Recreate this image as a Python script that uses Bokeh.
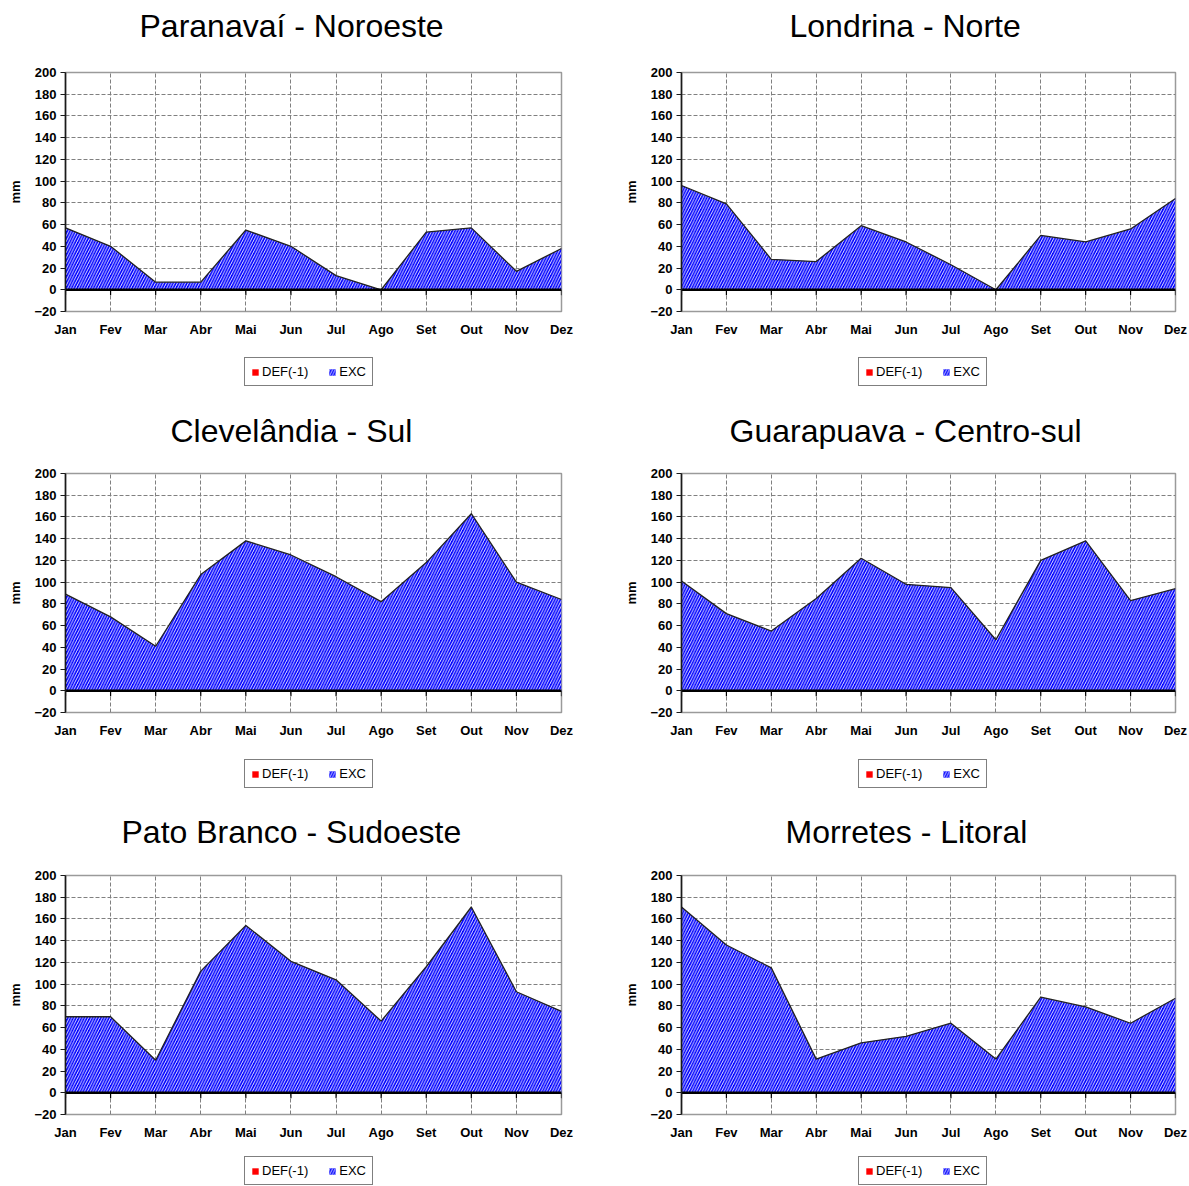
from bokeh.plotting import figure
from bokeh.models import Range1d, FixedTicker, Legend, LegendItem, Title
from bokeh.layouts import column, row
from bokeh.embed import file_html
from bokeh.resources import INLINE

# ---------------- data ----------------
months = ["Jan", "Fev", "Mar", "Abr", "Mai", "Jun", "Jul", "Ago", "Set", "Out", "Nov", "Dez"]
y_ticks = [-20, 0, 20, 40, 60, 80, 100, 120, 140, 160, 180, 200]

titles = ["Paranavaí - Noroeste", "Londrina - Norte",
          "Clevelândia - Sul", "Guarapuava - Centro-sul",
          "Pato Branco - Sudoeste", "Morretes - Litoral"]

exc_paranavai = [57, 40, 7, 7, 55, 40, 13, 0, 53, 57, 17, 38]
exc_londrina = [96, 79, 28, 26, 59, 44, 23, 0, 50, 44, 56, 84]
exc_clevelandia = [89, 68, 41, 107, 138, 125, 105, 82, 118, 163, 100, 84]
exc_guarapuava = [101, 71, 55, 85, 122, 98, 95, 47, 120, 138, 83, 94]
exc_pato_branco = [70, 70, 30, 112, 154, 121, 104, 66, 116, 171, 93, 75]
exc_morretes = [171, 136, 115, 31, 46, 52, 64, 31, 88, 79, 64, 87]

def_paranavai = [0, 0, 0, 0, 0, 0, 0, 0, 0, 0, 0, 0]
def_londrina = [0, 0, 0, 0, 0, 0, 0, 0, 0, 0, 0, 0]
def_clevelandia = [0, 0, 0, 0, 0, 0, 0, 0, 0, 0, 0, 0]
def_guarapuava = [0, 0, 0, 0, 0, 0, 0, 0, 0, 0, 0, 0]
def_pato_branco = [0, 0, 0, 0, 0, 0, 0, 0, 0, 0, 0, 0]
def_morretes = [0, 0, 0, 0, 0, 0, 0, 0, 0, 0, 0, 0]

exc_series = [exc_paranavai, exc_londrina, exc_clevelandia,
              exc_guarapuava, exc_pato_branco, exc_morretes]
def_series = [def_paranavai, def_londrina, def_clevelandia,
              def_guarapuava, def_pato_branco, def_morretes]

# ---------------- layout geometry (pixels) ----------------
FONT = "Liberation Sans"
FH = 239
BOTTOM = 30
# per column: (border_left, frame_width, border_right, legend_x)
cols = [(65, 496, 40, 244), (80, 494, 14, 257)]
# per row: (border_top, title_gap, legend_strip_height, legend_y)
rows = [(72, 16, 68, 23), (64, 12, 68, 22), (65, 13, 42, 1)]
# per panel: title offset from frame left
title_offsets = [74, 108, 105, 48, 56, 104]

EXC_STYLE = dict(fill_color="#0000ff", fill_alpha=1.0, hatch_pattern="/",
                 hatch_color="white", hatch_scale=5.5, hatch_weight=0.9)
DEF_STYLE = dict(fill_color="#ff0000", fill_alpha=1.0)


def make_panel(title, exc, dfc, col, rw, toff):
    bl, fw, br, _ = col
    bt, tgap, _, _ = rw
    xs = list(range(len(months)))
    p = figure(frame_width=fw, frame_height=FH,
               min_border_left=bl, min_border_right=br,
               min_border_top=bt, min_border_bottom=BOTTOM,
               x_range=Range1d(0, len(months) - 1), y_range=Range1d(y_ticks[0], y_ticks[-1]),
               output_backend="svg", toolbar_location=None, tools="")
    p.background_fill_color = "white"
    p.border_fill_color = "white"
    p.outline_line_color = "#9a9a9a"
    p.outline_line_width = 1.5

    # spacer between title and plot area
    p.add_layout(Title(text=" ", text_font=FONT, text_font_size="10px",
                       standoff=tgap), "above")
    p.title.text = title
    p.title.align = "left"
    p.title.offset = toff
    p.title.text_font = FONT
    p.title.text_font_size = "32px"
    p.title.text_font_style = "normal"
    p.title.text_color = "black"
    p.title.standoff = 0

    # grid
    p.xgrid.ticker = FixedTicker(ticks=xs)
    p.ygrid.ticker = FixedTicker(ticks=y_ticks)
    for gr in (p.xgrid, p.ygrid):
        gr.grid_line_color = "#808080"
        gr.grid_line_dash = "4 2"
        gr.grid_line_width = 1

    # x axis: labels only
    xa = p.xaxis[0]
    xa.ticker = FixedTicker(ticks=xs)
    xa.major_label_overrides = {i: m for i, m in enumerate(months)}
    xa.axis_line_color = None
    xa.major_tick_line_color = None
    xa.major_tick_out = 0
    xa.major_tick_in = 0
    xa.minor_tick_line_color = None
    xa.major_label_standoff = 10
    xa.major_label_text_font = FONT
    xa.major_label_text_font_style = "bold"
    xa.major_label_text_font_size = "13px"
    xa.major_label_text_color = "black"

    # y axis
    ya = p.yaxis[0]
    ya.ticker = FixedTicker(ticks=y_ticks)
    ya.axis_line_color = "#1a1a1a"
    ya.axis_line_width = 1.6
    ya.major_tick_line_color = "#1a1a1a"
    ya.major_tick_out = 5
    ya.major_tick_in = 0
    ya.minor_tick_line_color = None
    ya.major_label_standoff = 4
    ya.major_label_text_font = FONT
    ya.major_label_text_font_style = "bold"
    ya.major_label_text_font_size = "13px"
    ya.major_label_text_color = "black"
    ya.axis_label = "mm"
    ya.axis_label_standoff = 8
    ya.axis_label_text_font = FONT
    ya.axis_label_text_font_style = "bold"
    ya.axis_label_text_font_size = "13px"
    ya.axis_label_text_color = "black"

    # EXC area (blue with white diagonal hatch) and its outline
    p.varea(x=xs, y1=[0] * len(xs), y2=exc, **EXC_STYLE)
    p.line(x=xs, y=exc, line_color="#222222", line_width=1.3)

    # DEF(-1) area (red) and the zero line
    p.varea(x=xs, y1=[0] * len(xs), y2=dfc, **DEF_STYLE)
    p.line(x=xs, y=dfc, line_color="black", line_width=2.6)
    # category tick marks below the zero line
    p.segment(x0=xs, y0=dfc, x1=xs, y1=[v - 5 for v in dfc],
              line_color="black", line_width=1.2)
    return p


def make_legend_strip(exc, dfc, col, rw):
    bl, fw, br, lx = col
    _, _, h, ly = rw
    w = bl + fw + br
    xs = list(range(len(months)))
    # the strip only shows the legend; its view lies outside the series values
    q = figure(frame_width=w, frame_height=h, min_border=0,
               x_range=Range1d(0, len(months) - 1), y_range=Range1d(1000, 1001),
               output_backend="svg", toolbar_location=None, tools="")
    q.axis.visible = False
    q.grid.visible = False
    q.outline_line_color = None
    q.background_fill_color = "white"
    q.border_fill_color = "white"
    r_exc = q.varea(x=xs, y1=[0] * len(xs), y2=exc, **EXC_STYLE)
    r_def = q.varea(x=xs, y1=[0] * len(xs), y2=dfc, **DEF_STYLE)
    leg = Legend(items=[LegendItem(label="DEF(-1)", renderers=[r_def]),
                        LegendItem(label="EXC", renderers=[r_exc])],
                 location=(lx, ly), orientation="horizontal",
                 border_line_color="black", border_line_width=1,
                 background_fill_color="white", background_fill_alpha=1.0,
                 padding=6, spacing=20, margin=0,
                 glyph_width=8, glyph_height=8, label_height=12,
                 label_standoff=3, label_text_font=FONT,
                 label_text_font_size="13px", label_text_color="black")
    q.add_layout(leg)
    return q


rows_out = []
for r in range(3):
    plots, strips = [], []
    for c in range(2):
        i = r * 2 + c
        plots.append(make_panel(titles[i], exc_series[i], def_series[i],
                                cols[c], rows[r], title_offsets[i]))
        strips.append(make_legend_strip(exc_series[i], def_series[i], cols[c], rows[r]))
    rows_out.append(row(*plots, spacing=0))
    rows_out.append(row(*strips, spacing=0))

layout = column(*rows_out, spacing=0)

open("out.html", "w").write(file_html(layout, INLINE))
